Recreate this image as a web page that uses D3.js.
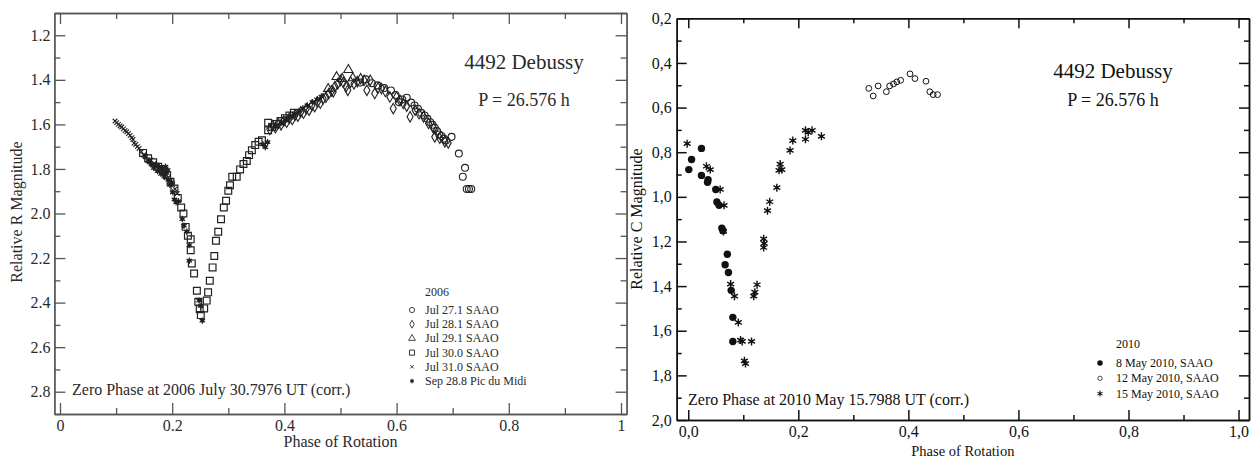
<!DOCTYPE html>
<html>
<head>
<meta charset="utf-8">
<script src="https://cdn.jsdelivr.net/npm/d3@7"></script>
<style>
  body { margin: 0; background: #fff; }
  svg text { font-family: "Liberation Serif", "DejaVu Serif", serif; }
</style>
</head>
<body>
<svg id="chart" width="1253" height="459"></svg>
<script>
// ---- 2006 R-band lightcurve (phase, magnitude) ----
var jul27 = [[0.535,1.412],[0.545,1.398],[0.556,1.415],[0.566,1.425],[0.578,1.437],[0.590,1.448],[0.598,1.468],[0.604,1.500],[0.610,1.488],[0.618,1.480],[0.626,1.502],[0.632,1.515],[0.638,1.530],[0.644,1.548],[0.650,1.560],[0.655,1.575],[0.660,1.590],[0.664,1.602],[0.668,1.615],[0.672,1.630],[0.676,1.645],[0.680,1.652],[0.684,1.664],[0.688,1.672],[0.698,1.656],[0.711,1.731],[0.722,1.795],[0.718,1.835],[0.725,1.890],[0.729,1.890],[0.733,1.890]];
var jul28 = [[0.374,1.622],[0.379,1.606],[0.384,1.615],[0.389,1.596],[0.394,1.602],[0.399,1.584],[0.404,1.590],[0.409,1.572],[0.414,1.578],[0.419,1.558],[0.424,1.563],[0.429,1.545],[0.434,1.550],[0.439,1.530],[0.444,1.536],[0.449,1.515],[0.454,1.520],[0.459,1.500],[0.464,1.505],[0.469,1.485],[0.474,1.478],[0.479,1.462],[0.484,1.450],[0.487,1.454],[0.490,1.430],[0.495,1.418],[0.500,1.402],[0.505,1.412],[0.510,1.430],[0.513,1.447],[0.518,1.410],[0.524,1.418],[0.530,1.408],[0.536,1.395],[0.542,1.402],[0.547,1.447],[0.553,1.402],[0.561,1.461],[0.567,1.436],[0.573,1.439],[0.580,1.452],[0.588,1.477],[0.594,1.529],[0.600,1.477],[0.606,1.492],[0.612,1.506],[0.618,1.518],[0.624,1.566],[0.633,1.536],[0.640,1.552],[0.648,1.566],[0.657,1.596],[0.666,1.618],[0.668,1.656],[0.677,1.662],[0.686,1.678],[0.692,1.683]];
var jul29 = [[0.478,1.440],[0.493,1.387],[0.503,1.395],[0.514,1.355],[0.522,1.392]];
var jul30 = [[0.148,1.728],[0.157,1.752],[0.166,1.770],[0.175,1.790],[0.183,1.800],[0.191,1.828],[0.197,1.858],[0.204,1.888],[0.210,1.930],[0.216,1.973],[0.220,2.000],[0.224,2.060],[0.228,2.100],[0.233,2.116],[0.233,2.165],[0.235,2.224],[0.239,2.269],[0.244,2.347],[0.2465,2.396],[0.249,2.430],[0.251,2.456],[0.257,2.426],[0.2615,2.391],[0.264,2.354],[0.267,2.302],[0.272,2.242],[0.275,2.191],[0.278,2.122],[0.282,2.082],[0.287,2.026],[0.292,1.973],[0.296,1.943],[0.300,1.898],[0.303,1.873],[0.307,1.835],[0.315,1.835],[0.321,1.802],[0.327,1.778],[0.333,1.764],[0.337,1.738],[0.342,1.716],[0.348,1.693],[0.354,1.678],[0.360,1.671],[0.371,1.626],[0.371,1.593],[0.378,1.612],[0.386,1.598],[0.393,1.585],[0.401,1.572],[0.409,1.560],[0.417,1.548]];
var jul31 = [[0.098,1.585],[0.101,1.592],[0.104,1.600],[0.107,1.607],[0.110,1.612],[0.113,1.620],[0.116,1.628],[0.119,1.633],[0.122,1.641],[0.125,1.650],[0.128,1.660],[0.130,1.668],[0.132,1.684],[0.135,1.690],[0.138,1.700],[0.141,1.708],[0.145,1.722],[0.149,1.738],[0.152,1.745],[0.156,1.760],[0.159,1.768],[0.162,1.760],[0.165,1.782],[0.168,1.776],[0.171,1.792],[0.174,1.785],[0.177,1.803],[0.180,1.796],[0.183,1.814],[0.186,1.806],[0.189,1.825],[0.193,1.838],[0.197,1.852],[0.201,1.870],[0.205,1.890],[0.209,1.910]];
var sep28 = [[0.152,1.742],[0.158,1.765],[0.163,1.778],[0.167,1.795],[0.171,1.780],[0.174,1.810],[0.177,1.790],[0.180,1.822],[0.183,1.800],[0.186,1.835],[0.188,1.790],[0.190,1.818],[0.192,1.805],[0.193,1.848],[0.196,1.872],[0.199,1.860],[0.201,1.905],[0.204,1.937],[0.207,1.950],[0.211,1.945],[0.218,2.025],[0.221,2.055],[0.226,2.082],[0.2305,2.142],[0.2305,2.212],[0.248,2.391],[0.251,2.415],[0.2537,2.481],[0.362,1.690],[0.366,1.702],[0.370,1.680],[0.385,1.610],[0.395,1.592],[0.402,1.580],[0.410,1.565],[0.418,1.552],[0.426,1.540],[0.433,1.528],[0.441,1.515],[0.450,1.500],[0.458,1.488],[0.466,1.475]];

// ---- 2010 C-band lightcurve ----
var may8 = [[0.001,0.878],[0.006,0.833],[0.024,0.783],[0.024,0.904],[0.036,0.923],[0.035,0.935],[0.050,0.967],[0.052,1.023],[0.056,1.038],[0.061,1.140],[0.063,1.152],[0.071,1.257],[0.067,1.304],[0.073,1.339],[0.078,1.419],[0.081,1.540],[0.081,1.648]];
var may12 = [[0.328,0.514],[0.336,0.548],[0.345,0.503],[0.360,0.529],[0.366,0.503],[0.373,0.494],[0.379,0.485],[0.386,0.478],[0.403,0.449],[0.412,0.470],[0.432,0.482],[0.439,0.529],[0.445,0.542],[0.453,0.542]];
var may15 = [[-0.002,0.762],[0.033,0.863],[0.040,0.878],[0.058,0.967],[0.065,1.038],[0.064,1.155],[0.077,1.391],[0.084,1.445],[0.091,1.563],[0.095,1.642],[0.098,1.648],[0.102,1.735],[0.104,1.747],[0.115,1.648],[0.119,1.445],[0.121,1.427],[0.125,1.394],[0.137,1.188],[0.138,1.209],[0.137,1.227],[0.144,1.062],[0.148,1.022],[0.161,0.959],[0.165,0.881],[0.167,0.853],[0.170,0.878],[0.185,0.792],[0.190,0.748],[0.213,0.742],[0.213,0.702],[0.218,0.711],[0.225,0.702],[0.242,0.729]];

// tick values / labels
var xMajor = [0, 0.2, 0.4, 0.6, 0.8, 1.0];
var xMinor = [0.1, 0.3, 0.5, 0.7, 0.9];
var yMajorR = [1.2, 1.4, 1.6, 1.8, 2.0, 2.2, 2.4, 2.6, 2.8];
var yMinorR = [1.1, 1.3, 1.5, 1.7, 1.9, 2.1, 2.3, 2.5, 2.7, 2.9];
var yMajorC = [0.2, 0.4, 0.6, 0.8, 1.0, 1.2, 1.4, 1.6, 1.8, 2.0];
var yMinorC = [0.3, 0.5, 0.7, 0.9, 1.1, 1.3, 1.5, 1.7, 1.9];
var legend2006 = ["Jul 27.1 SAAO", "Jul 28.1 SAAO", "Jul 29.1 SAAO", "Jul 30.0 SAAO", "Jul 31.0 SAAO", "Sep 28.8 Pic du Midi"];
var legend2010 = ["8 May 2010, SAAO", "12 May 2010, SAAO", "15 May 2010, SAAO"];

var svg = d3.select("#chart");

// marker painters: each appends a mark into group g
function sym(type, size) { return d3.symbol().type(type).size(size)(); }
function star(n, r) {
  var s = "";
  for (var i = 0; i < n; i++) {
    var a = Math.PI * i / n + Math.PI / 2;
    s += "M" + (r * Math.cos(a)) + "," + (r * Math.sin(a)) + "L" + (-r * Math.cos(a)) + "," + (-r * Math.sin(a));
  }
  return s;
}
var markers = {
  circle:  function (g, c) { g.append("path").attr("d", sym(d3.symbolCircle, 38)).attr("fill", "none").attr("stroke", c).attr("stroke-width", 1.1); },
  diamond: function (g, c) { g.append("path").attr("d", sym(d3.symbolDiamond, 32)).attr("fill", "none").attr("stroke", c).attr("stroke-width", 1.1); },
  triangle:function (g, c) { g.append("path").attr("d", sym(d3.symbolTriangle, 36)).attr("fill", "none").attr("stroke", c).attr("stroke-width", 1.1); },
  square:  function (g, c) { g.append("path").attr("d", sym(d3.symbolSquare, 46)).attr("fill", "none").attr("stroke", c).attr("stroke-width", 1.2); },
  cross:   function (g, c) { g.append("path").attr("d", "M-2.3,-2.3L2.3,2.3M-2.3,2.3L2.3,-2.3").attr("stroke", c).attr("stroke-width", 1.1); },
  dotstar: function (g, c) {
    g.append("circle").attr("r", 2).attr("fill", c);
    g.append("path").attr("d", star(3, 3.2)).attr("stroke", c).attr("stroke-width", 1.2);
  },
  bigdot:  function (g, c) { g.append("circle").attr("r", 3.7).attr("fill", c); },
  ring:    function (g, c) { g.append("circle").attr("r", 2.9).attr("fill", "none").attr("stroke", c).attr("stroke-width", 1); },
  aster:   function (g, c) {
    g.append("circle").attr("r", 1.3).attr("fill", c);
    g.append("path").attr("d", star(3, 4)).attr("stroke", c).attr("stroke-width", 1.4);
  }
};

function drawPanel(p) {
  var x = d3.scaleLinear().domain(p.xDomain).range([p.left, p.right]);
  var y = d3.scaleLinear().domain(p.yDomain).range([p.top, p.bottom]);
  var g = svg.append("g");

  // axes: minor then major, ticks point inward on all four sides
  var sides = [
    [d3.axisBottom, x, "translate(0," + p.bottom + ")", xMajor, xMinor, p.xFmt, p.xPad],
    [d3.axisTop, x, "translate(0," + p.top + ")", xMajor, xMinor, null, 0],
    [d3.axisLeft, y, "translate(" + p.left + ",0)", p.yMajor, p.yMinor, p.yFmt, p.yPad],
    [d3.axisRight, y, "translate(" + p.right + ",0)", p.yMajor, p.yMinor, null, 0]
  ];
  sides.forEach(function (s) {
    var minor = g.append("g").attr("transform", s[2])
      .call(s[0](s[1]).tickValues(s[4]).tickSize(-p.minLen).tickSizeOuter(0).tickFormat(""));
    var major = g.append("g").attr("transform", s[2])
      .call(s[0](s[1]).tickValues(s[3]).tickSize(-p.majLen).tickSizeOuter(0)
        .tickFormat(s[5] || "").tickPadding(s[6]));
    [minor, major].forEach(function (a) {
      a.selectAll("path, line").attr("stroke", p.axisColor).attr("stroke-width", p.axisWidth);
      a.attr("font-family", null).attr("font-size", 16);
      a.selectAll("text").attr("fill", p.textColor);
    });
  });

  // data marks
  p.series.forEach(function (s) {
    g.append("g").selectAll("g")
      .data(s.data)
      .join("g")
      .attr("transform", function (d) { return "translate(" + x(d[0]) + "," + y(d[1]) + ")"; })
      .each(function () { markers[s.marker](d3.select(this), p.markColor); });
  });

  // axis titles
  g.append("text")
    .attr("x", (p.left + p.right) / 2).attr("y", p.xTitleY)
    .attr("text-anchor", "middle").attr("font-size", p.xTitleSize).attr("fill", p.textColor)
    .text("Phase of Rotation");
  g.append("text")
    .attr("transform", "translate(" + p.yTitleX + "," + p.yTitleMid + ") rotate(-90)")
    .attr("text-anchor", "middle").attr("font-size", 16).attr("fill", p.textColor)
    .text(p.yTitle);

  // annotations
  g.append("text").attr("x", p.nameX).attr("y", p.nameY).attr("text-anchor", "middle")
    .attr("font-size", 21).attr("fill", p.textColor).text("4492 Debussy");
  g.append("text").attr("x", p.nameX).attr("y", p.periodY).attr("text-anchor", "middle")
    .attr("font-size", 18).attr("fill", p.textColor).text("P = 26.576 h");
  g.append("text").attr("x", p.zeroX).attr("y", p.zeroY)
    .attr("font-size", 16).attr("fill", p.textColor).text(p.zeroText);

  // legend
  var lg = g.append("g").attr("font-size", 12).attr("fill", p.textColor);
  lg.append("text").attr("x", p.legX).attr("y", p.legY0 - p.legStep * 1.25 + 4).text(p.legTitle);
  p.legLabels.forEach(function (lab, i) {
    var yy = p.legY0 + i * p.legStep;
    var m = lg.append("g").attr("transform", "translate(" + p.legSymX + "," + yy + ") scale(0.75)");
    markers[p.series[i].marker](m, p.markColor);
    lg.append("text").attr("x", p.legX).attr("y", yy + 4).text(lab);
  });
}

drawPanel({
  left: 54.4, right: 626.6, top: 13, bottom: 414,
  xDomain: [-0.01, 1.01], yDomain: [1.1, 2.9],
  yMajor: yMajorR, yMinor: yMinorR,
  xFmt: function (d) { return (d === 0 || d === 1) ? String(d) : d.toFixed(1); },
  yFmt: function (d) { return d.toFixed(1); },
  xPad: 6, yPad: 4, majLen: 11, minLen: 6,
  axisColor: "#555", axisWidth: 1.3, textColor: "#2a2a2a", markColor: "#222",
  series: [
    { data: jul27, marker: "circle" },
    { data: jul28, marker: "diamond" },
    { data: jul29, marker: "triangle" },
    { data: jul30, marker: "square" },
    { data: jul31, marker: "cross" },
    { data: sep28, marker: "dotstar" }
  ],
  xTitleY: 447, xTitleSize: 16,
  yTitle: "Relative R Magnitude", yTitleX: 22, yTitleMid: 212,
  nameX: 524, nameY: 69, periodY: 106,
  zeroX: 72, zeroY: 395, zeroText: "Zero Phase at 2006 July 30.7976 UT (corr.)",
  legTitle: "2006", legX: 425, legSymX: 412, legY0: 310, legStep: 14.2,
  legLabels: legend2006
});

drawPanel({
  left: 676.7, right: 1249, top: 18.3, bottom: 420,
  xDomain: [-0.021, 1.019], yDomain: [0.2, 2.0],
  yMajor: yMajorC, yMinor: yMinorC,
  xFmt: function (d) { return d.toFixed(1).replace(".", ","); },
  yFmt: function (d) { return d.toFixed(1).replace(".", ","); },
  xPad: 6, yPad: 5, majLen: 10, minLen: 5,
  axisColor: "#111", axisWidth: 1.5, textColor: "#111", markColor: "#111",
  series: [
    { data: may8, marker: "bigdot" },
    { data: may12, marker: "ring" },
    { data: may15, marker: "aster" }
  ],
  xTitleY: 456, xTitleSize: 14.5,
  yTitle: "Relative C Magnitude", yTitleX: 642, yTitleMid: 219,
  nameX: 1113, nameY: 78, periodY: 106,
  zeroX: 688, zeroY: 405, zeroText: "Zero Phase at 2010 May 15.7988 UT (corr.)",
  legTitle: "2010", legX: 1116, legSymX: 1100, legY0: 363, legStep: 15.3,
  legLabels: legend2010
});
</script>
</body>
</html>
